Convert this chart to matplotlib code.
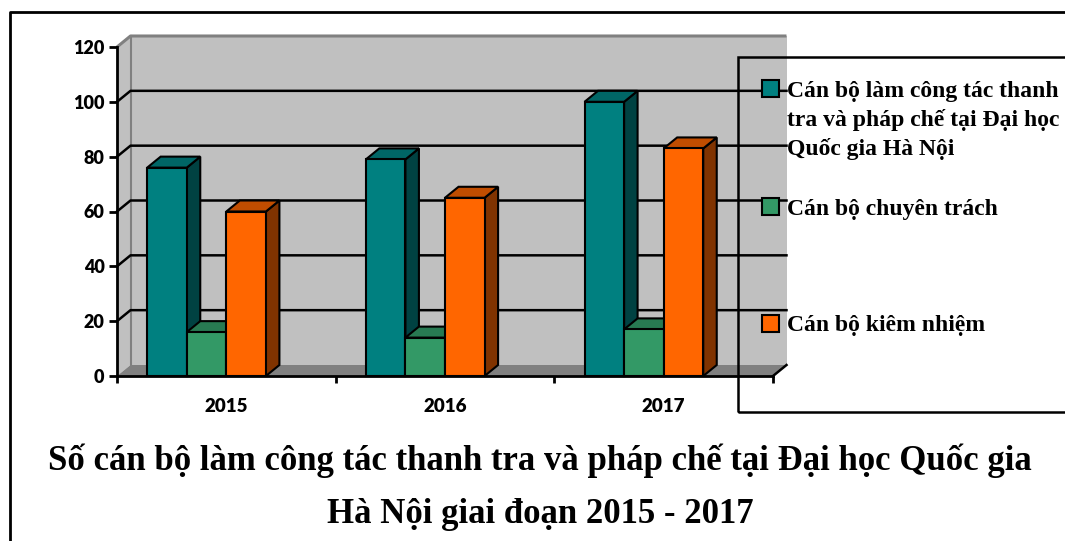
import matplotlib
matplotlib.use('Agg')
import matplotlib.pyplot as plt
from matplotlib.patches import Polygon, Rectangle
from matplotlib.lines import Line2D

# --- Data ---
years = ['2015', '2016', '2017']
series_names = [
    'Cán bộ làm công tác thanh\ntra và pháp chế tại Đại học\nQuốc gia Hà Nội',
    'Cán bộ chuyên trách',
    'Cán bộ kiêm nhiệm',
]
tong_so = [76, 79, 100]
chuyen_trach = [16, 14, 17]
kiem_nhiem = [60, 65, 83]
y_ticks = [0, 20, 40, 60, 80, 100, 120]
title_lines = ['Số cán bộ làm công tác thanh tra và pháp chế tại Đại học Quốc gia',
               'Hà Nội giai đoạn 2015 - 2017']

# front / side / top colours for each series
front_colors = ['#008080', '#339966', '#ff6600']
side_colors = ['#004242', '#1f5c3d', '#803300']
top_colors = ['#006666', '#287a52', '#c04d00']

W, H = 1065, 541
fig = plt.figure(figsize=(W / 100, H / 100), dpi=100)
fig.patch.set_facecolor('white')

def fx(px):
    return px / W

def fy(py):
    return (H - py) / H

# axes: y axis at x=117px, floor front at y=376px, 120 at y=47px
ax = fig.add_axes([fx(117), fy(376), (773 - 117) / W, (376 - 47) / H])
ax.set_xlim(-0.5, 2.5)
ax.set_ylim(0, 120)
ax.patch.set_visible(False)

# 3D depth offset in data units
px_x = (773 - 117) / 3.0
px_y = (376 - 47) / 120.0
DX = 13.5 / px_x
DY = 11.0 / px_y
x0, x1 = -0.5, 2.5

# walls and floor
wall = Polygon([(x0 + DX, DY), (x1 + DX, DY), (x1 + DX, 120 + DY), (x0 + DX, 120 + DY)],
               closed=True, facecolor='#c0c0c0', edgecolor='none', zorder=0.5, clip_on=False)
ax.add_patch(wall)
side_wall = Polygon([(x0, 0), (x0, 120), (x0 + DX, 120 + DY), (x0 + DX, DY)],
                    closed=True, facecolor='#c0c0c0', edgecolor='none', zorder=0.5, clip_on=False)
ax.add_patch(side_wall)
ax.plot([x0, x0 + DX, x1 + DX], [120, 120 + DY, 120 + DY], color='#808080', lw=2.2,
        zorder=0.8, clip_on=False, solid_capstyle='butt')
ax.plot([x0 + DX, x0 + DX], [DY, 120 + DY], color='#808080', lw=1.5, zorder=0.8, clip_on=False)
floor = Polygon([(x0, 0), (x1, 0), (x1 + DX, DY), (x0 + DX, DY)],
                closed=True, facecolor='#808080', edgecolor='none', zorder=0.9, clip_on=False)
ax.add_patch(floor)
ax.plot([x1, x1 + DX], [0, DY], color='black', lw=1.8, zorder=1, clip_on=False)

# gridlines on the back and left walls
for yv in y_ticks[1:-1]:
    ax.plot([x0, x0 + DX, x1 + DX], [yv, yv + DY, yv + DY], color='black', lw=1.8,
            zorder=1, clip_on=False)

# bars with 3D faces
values = [tong_so, chuyen_trach, kiem_nhiem]
offsets = [-0.362, -0.181, 0.0]
bw = 0.181
for i in range(len(years)):
    for j, vals in enumerate(values):
        v = vals[i]
        left = i + offsets[j]
        right = left + bw
        z = 3 + i + j * 0.1
        side = Polygon([(right, 0), (right, v), (right + DX, v + DY), (right + DX, DY)],
                       closed=True, facecolor=side_colors[j], edgecolor='black', lw=1.5,
                       zorder=z, clip_on=False)
        top = Polygon([(left, v), (right, v), (right + DX, v + DY), (left + DX, v + DY)],
                      closed=True, facecolor=top_colors[j], edgecolor='black', lw=1.5,
                      zorder=z, clip_on=False)
        ax.add_patch(side)
        ax.add_patch(top)
        ax.bar(left, v, width=bw, align='edge', color=front_colors[j], edgecolor='black',
               linewidth=1.5, zorder=z + 0.01, clip_on=False)

# axes lines and ticks
for s in ['top', 'right']:
    ax.spines[s].set_visible(False)
ax.spines['left'].set_linewidth(2)
ax.spines['bottom'].set_linewidth(2)
ax.spines['left'].set_zorder(2)
ax.spines['bottom'].set_zorder(2)
ax.set_yticks(y_ticks)
ax.set_yticklabels([str(t) for t in y_ticks], fontfamily='Lato', fontweight='heavy', fontsize=13)
ax.tick_params(axis='y', direction='out', length=6, width=2, pad=3)
ax.set_xticks([-0.5, 0.5, 1.5, 2.5])
ax.set_xticklabels([])
ax.tick_params(axis='x', which='major', direction='out', length=5, width=2)
ax.set_xticks([0, 1, 2], minor=True)
ax.set_xticklabels(years, minor=True, fontfamily='Lato', fontweight='heavy', fontsize=13.5)
ax.tick_params(axis='x', which='minor', length=0, pad=16)

# outer frame
fig.add_artist(Line2D([fx(10), fx(10), fx(1070)], [fy(545), fy(12), fy(12)],
                      color='black', lw=2, transform=fig.transFigure))

# legend box (no fill)
fig.add_artist(Rectangle((fx(738), fy(412)), fx(1075) - fx(738), fy(57) - fy(412),
                         fill=False, edgecolor='black', lw=1.8, transform=fig.transFigure,
                         zorder=5))
legend_centers = [88.5, 206, 323]
for j, name in enumerate(series_names):
    cy = legend_centers[j]
    fig.add_artist(Rectangle((fx(762), fy(cy + 8.5)), 17 / W, 17 / H, facecolor=front_colors[j],
                             edgecolor='black', lw=1.5, transform=fig.transFigure, zorder=6))
    for k, line in enumerate(name.split('\n')):
        fig.text(fx(787), fy(cy + 8.5 + k * 29), line, fontfamily='Liberation Serif',
                 fontweight='bold', fontsize=17, ha='left', va='baseline', zorder=6)

# title
fig.text(fx(540), fy(470), title_lines[0], fontfamily='Liberation Serif', fontweight='bold',
         fontsize=25, ha='center', va='baseline')
fig.text(fx(540), fy(523), title_lines[1], fontfamily='Liberation Serif', fontweight='bold',
         fontsize=25, ha='center', va='baseline')

fig.savefig('out.png', dpi=100)
